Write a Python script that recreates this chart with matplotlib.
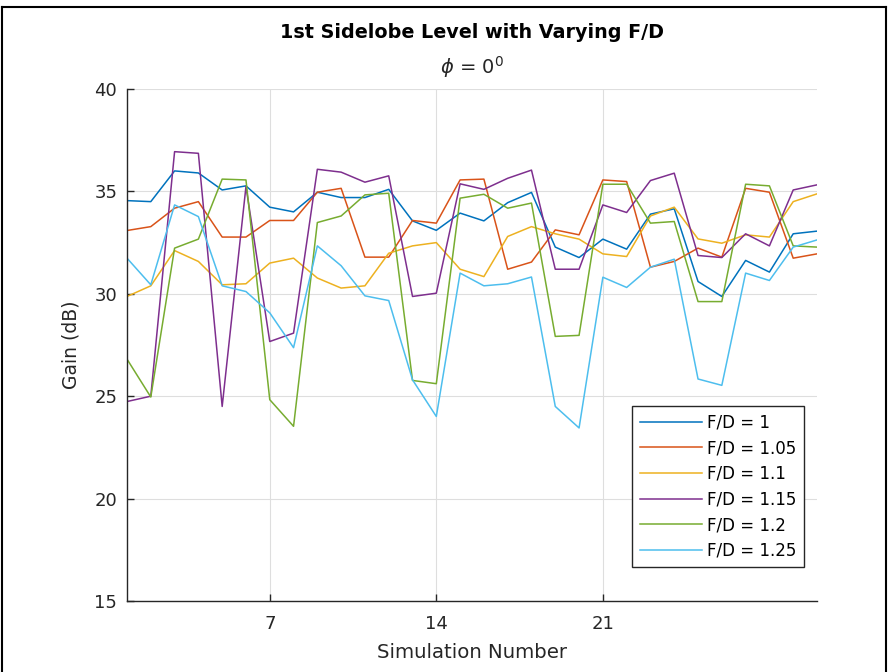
import matplotlib
matplotlib.use("Agg")
import matplotlib.pyplot as plt
from matplotlib.lines import Line2D
import numpy as np

plt.rcParams['font.family'] = ['DejaVu Sans']
plt.rcParams['mathtext.fontset'] = 'dejavusans'

sim = list(range(1, 31))
fd_1 = [34.55, 34.5, 36.0, 35.9, 35.07, 35.27, 34.23, 34.0, 34.96, 34.7,
        34.7, 35.1, 33.56, 33.1, 33.94, 33.56, 34.45, 34.95, 32.28, 31.77,
        32.67, 32.18, 33.89, 34.15, 30.6, 29.87, 31.63, 31.06, 32.93, 33.06]
fd_105 = [33.09, 33.28, 34.18, 34.5, 32.77, 32.77, 33.58, 33.58, 34.96, 35.15,
          31.79, 31.79, 33.58, 33.45, 35.56, 35.6, 31.2, 31.55, 33.12, 32.88,
          35.56, 35.48, 31.3, 31.58, 32.23, 31.79, 35.15, 34.96, 31.74, 31.95]
fd_11 = [29.87, 30.39, 32.11, 31.58, 30.44, 30.49, 31.5, 31.74, 30.77, 30.28,
         30.39, 31.98, 32.34, 32.5, 31.2, 30.84, 32.8, 33.28, 32.93, 32.67,
         31.95, 31.82, 33.8, 34.23, 32.68, 32.47, 32.88, 32.77, 34.5, 34.88]
fd_115 = [24.74, 25.0, 36.94, 36.86, 24.5, 35.24, 27.67, 28.08, 36.08, 35.94,
          35.45, 35.76, 29.87, 30.03, 35.37, 35.1, 35.64, 36.04, 31.2, 31.2,
          34.34, 33.97, 35.53, 35.89, 31.87, 31.77, 32.93, 32.34, 35.07, 35.32]
fd_12 = [26.81, 24.96, 32.23, 32.67, 35.6, 35.56, 24.83, 23.53, 33.48, 33.8,
         34.83, 34.91, 25.77, 25.61, 34.67, 34.86, 34.18, 34.43, 27.92, 27.97,
         35.35, 35.35, 33.45, 33.53, 29.62, 29.62, 35.35, 35.27, 32.34, 32.28]
fd_125 = [31.74, 30.44, 34.34, 33.77, 30.39, 30.11, 29.07, 27.37, 32.34, 31.37,
          29.9, 29.67, 25.8, 24.01, 31.01, 30.39, 30.49, 30.82, 24.5, 23.45,
          30.81, 30.31, 31.3, 31.69, 25.84, 25.53, 31.01, 30.65, 32.28, 32.63]

series = [fd_1, fd_105, fd_11, fd_115, fd_12, fd_125]
labels = ['F/D = 1', 'F/D = 1.05', 'F/D = 1.1', 'F/D = 1.15', 'F/D = 1.2', 'F/D = 1.25']
colors = ['#0072BD', '#D95319', '#EDB120', '#7E2F8E', '#77AC30', '#4DBEEE']
xticks = [7, 14, 21]
yticks = [15, 20, 25, 30, 35, 40]

W, H = 889, 672
fig = plt.figure(figsize=(W / 100, H / 100), dpi=100)
ax = fig.add_axes([127 / W, (H - 601) / H, 690 / W, 512 / H])

for s, lab, c in zip(series, labels, colors):
    ax.plot(sim, s, color=c, lw=1.1, label=lab)

ax.set_xlim(1, 30)
ax.set_ylim(15, 40)
ax.set_xticks(xticks)
ax.set_yticks(yticks)
ax.grid(True, color='#dedede', lw=0.8)
ax.set_axisbelow(True)
ax.spines['top'].set_visible(False)
ax.spines['right'].set_visible(False)
for sp in ['left', 'bottom']:
    ax.spines[sp].set_color('#262626')
    ax.spines[sp].set_linewidth(1.0)
ax.tick_params(direction='in', length=5, width=1, colors='#262626',
               labelsize=13, labelcolor='#262626')
ax.tick_params(axis='x', pad=10)
ax.tick_params(axis='y', pad=7)

ax.set_xlabel('Simulation Number', fontsize=14.2, color='#262626', labelpad=7)
ax.set_ylabel('Gain (dB)', fontsize=13.5, color='#262626', labelpad=10)

fig.text(472 / W, 1 - 32 / H, '1st Sidelobe Level with Varying F/D', ha='center', va='center',
         fontsize=13.8, fontweight='bold', color='black')
fig.text(472 / W, 1 - 67 / H, r'$\phi$ = 0$^{0}$', ha='center', va='center',
         fontsize=14, color='#262626')

leg = ax.legend(loc='lower right', bbox_to_anchor=(0.981, 0.066), borderaxespad=0,
                fontsize=12, frameon=True, fancybox=False, handlelength=3.75,
                handletextpad=0.3, labelspacing=0.46, borderpad=0.45)
leg.get_frame().set_edgecolor('#262626')
leg.get_frame().set_linewidth(1.0)
leg.get_frame().set_alpha(1)

# outer screenshot border
fig.add_artist(Line2D([1.5 / W, 1.5 / W], [0, 1 - 7 / H], transform=fig.transFigure, color='black', lw=1.5))
fig.add_artist(Line2D([886 / W, 886 / W], [0, 1 - 7 / H], transform=fig.transFigure, color='black', lw=1.5))
fig.add_artist(Line2D([1.5 / W, 886 / W], [1 - 7 / H, 1 - 7 / H], transform=fig.transFigure, color='black', lw=1.5))

fig.savefig('out.png', dpi=100)
